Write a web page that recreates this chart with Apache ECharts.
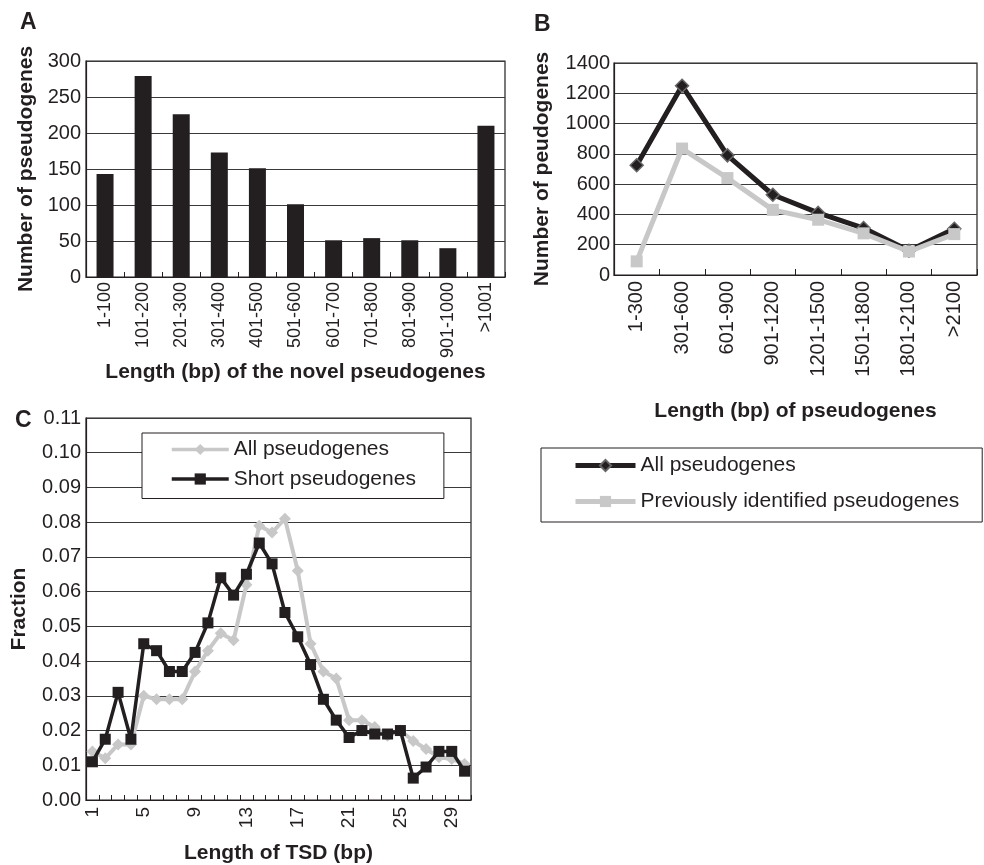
<!DOCTYPE html>
<html><head><meta charset="utf-8">
<script src="https://cdn.jsdelivr.net/npm/echarts@6/dist/echarts.min.js"></script>
<style>html,body{margin:0;padding:0;background:#fff}#c{width:984px;height:865px}</style>
</head><body><div id="c"></div>
<script>
// ---- Panel A data ----
const aCategories = ['1-100','101-200','201-300','301-400','401-500','501-600','601-700','701-800','801-900','901-1000','>1001'];
const aCounts = [143, 279, 226, 173, 151, 101, 51, 54, 51, 40, 210];
// ---- Panel B data ----
const bCategories = ['1-300','301-600','601-900','901-1200','1201-1500','1501-1800','1801-2100','>2100'];
const bAll = [725, 1250, 790, 530, 410, 310, 160, 305];
const bPrevious = [90, 835, 640, 430, 365, 275, 155, 270];
// ---- Panel C data ----
const cLengths = ['1','2','3','4','5','6','7','8','9','10','11','12','13','14','15','16','17','18','19','20','21','22','23','24','25','26','27','28','29','30'];
const cAll = [0.014,0.012,0.016,0.016,0.030,0.029,0.029,0.029,0.037,0.043,0.048,0.046,0.062,0.079,0.077,0.081,0.066,0.045,0.037,0.035,0.023,0.023,0.021,0.0185,0.020,0.017,0.0147,0.0123,0.0118,0.0104];
const cShort = [0.011,0.0175,0.031,0.0175,0.045,0.043,0.037,0.037,0.0425,0.051,0.064,0.059,0.065,0.074,0.068,0.054,0.047,0.039,0.029,0.023,0.018,0.020,0.019,0.019,0.020,0.0063,0.0095,0.014,0.014,0.0083];

const legendLabels = {
  bAll: 'All pseudogenes',
  bPrev: 'Previously identified pseudogenes',
  cAll: 'All pseudogenes',
  cShort: 'Short pseudogenes'
};

const INK = '#231f20';
const GRAY = '#c8c8c8';
const FONT = 'Liberation Sans';
const gridLine = { show: true, lineStyle: { color: '#3a3a3a', width: 1 } };
const axisLine = { show: true, lineStyle: { color: INK, width: 1.2 } };
const tickLabel = (size) => ({ color: INK, fontSize: size, fontFamily: FONT });
const titleStyle = { color: INK, fontSize: 21, fontWeight: 'bold', fontFamily: FONT };

const chart = echarts.init(document.getElementById('c'), null, { renderer: 'canvas' });

const option = {
  backgroundColor: '#fff',
  animation: false,
  title: [
    { text: 'A', left: 20, top: 11, padding: 0, textStyle: { color: INK, fontSize: 23, fontWeight: 'bold', fontFamily: FONT } },
    { text: 'B', left: 534, top: 13, padding: 0, textStyle: { color: INK, fontSize: 23, fontWeight: 'bold', fontFamily: FONT } },
    { text: 'C', left: 15, top: 409, padding: 0, textStyle: { color: INK, fontSize: 23, fontWeight: 'bold', fontFamily: FONT } }
  ],
  grid: [
    { left: 86, top: 61, width: 419, height: 216, show: true, borderColor: INK, borderWidth: 1.2, backgroundColor: 'transparent' },
    { left: 614, top: 63, width: 363, height: 212, show: true, borderColor: INK, borderWidth: 1.2, backgroundColor: 'transparent' },
    { left: 86, top: 418, width: 385, height: 385, show: true, borderColor: INK, borderWidth: 1.2, backgroundColor: 'transparent' }
  ],
  legend: [
    {
      orient: 'vertical', left: 541, top: 448,
      padding: [7, 23, 10, 32], itemGap: 15, itemWidth: 60, itemHeight: 14,
      borderColor: INK, borderWidth: 1, backgroundColor: '#fff',
      data: ['bAll', 'bPrev'],
      formatter: (n) => legendLabels[n],
      lineStyle: { width: 5 },
      textStyle: { color: INK, fontSize: 21, fontFamily: FONT }
    },
    {
      orient: 'vertical', left: 142, top: 433,
      padding: [6, 28, 9, 28], itemGap: 8.5, itemWidth: 57, itemHeight: 14,
      borderColor: INK, borderWidth: 1, backgroundColor: '#fff',
      data: ['cAll', 'cShort'],
      formatter: (n) => legendLabels[n],
      lineStyle: { width: 3.5 },
      textStyle: { color: INK, fontSize: 21, fontFamily: FONT }
    }
  ],
  xAxis: [
    {
      gridIndex: 0, type: 'category', data: aCategories,
      axisLine: axisLine,
      axisTick: { show: true, inside: true, length: 5, lineStyle: { color: INK } },
      axisLabel: Object.assign(tickLabel(18), { rotate: 90, interval: 0, margin: 5 }),
      name: 'Length (bp) of the novel pseudogenes', nameLocation: 'middle', nameGap: 84,
      nameTextStyle: titleStyle
    },
    {
      gridIndex: 1, type: 'category', data: bCategories,
      axisLine: axisLine,
      axisTick: { show: true, inside: true, length: 6, lineStyle: { color: INK } },
      axisLabel: Object.assign(tickLabel(20), { rotate: 90, interval: 0, margin: 6 }),
      name: 'Length (bp) of pseudogenes', nameLocation: 'middle', nameGap: 126,
      nameTextStyle: titleStyle
    },
    {
      gridIndex: 2, type: 'category', data: cLengths,
      axisLine: axisLine,
      axisTick: { show: true, inside: true, length: 5, interval: 0, lineStyle: { color: INK } },
      axisLabel: Object.assign(tickLabel(19), { rotate: 90, interval: 3, margin: 7 }),
      name: 'Length of TSD (bp)', nameLocation: 'middle', nameGap: 43,
      nameTextStyle: titleStyle
    }
  ],
  yAxis: [
    {
      gridIndex: 0, type: 'value', min: 0, max: 300, interval: 50,
      axisLine: axisLine, axisTick: { show: false },
      splitLine: gridLine,
      axisLabel: Object.assign(tickLabel(20), { margin: 5, formatter: (v) => String(v) }),
      name: 'Number of pseudogenes', nameLocation: 'middle', nameGap: 49, nameRotate: 90,
      nameTextStyle: titleStyle
    },
    {
      gridIndex: 1, type: 'value', min: 0, max: 1400, interval: 200,
      axisLine: axisLine, axisTick: { show: false },
      splitLine: gridLine,
      axisLabel: Object.assign(tickLabel(20), { margin: 4, formatter: (v) => String(v) }),
      name: 'Number of peudogenes', nameLocation: 'middle', nameGap: 61, nameRotate: 90,
      nameTextStyle: titleStyle
    },
    {
      gridIndex: 2, type: 'value', min: 0, max: 0.11, interval: 0.01,
      axisLine: axisLine, axisTick: { show: false },
      splitLine: gridLine,
      axisLabel: Object.assign(tickLabel(20), { margin: 5, formatter: (v) => v.toFixed(2) }),
      name: 'Fraction', nameLocation: 'middle', nameGap: 56, nameRotate: 90,
      nameTextStyle: titleStyle
    }
  ],
  series: [
    {
      name: 'aCounts', type: 'bar', xAxisIndex: 0, yAxisIndex: 0,
      data: aCounts, barWidth: 17, itemStyle: { color: INK }
    },
    {
      name: 'bAll', type: 'line', xAxisIndex: 1, yAxisIndex: 1, data: bAll,
      symbol: 'diamond', symbolSize: 13, z: 3, showAllSymbol: true,
      lineStyle: { color: INK, width: 5 },
      itemStyle: { color: INK, borderColor: '#666', borderWidth: 1.5 }
    },
    {
      name: 'bPrev', type: 'line', xAxisIndex: 1, yAxisIndex: 1, data: bPrevious,
      symbol: 'rect', symbolSize: 12, z: 4, showAllSymbol: true,
      lineStyle: { color: GRAY, width: 5 },
      itemStyle: { color: GRAY }
    },
    {
      name: 'cAll', type: 'line', xAxisIndex: 2, yAxisIndex: 2, data: cAll,
      symbol: 'diamond', symbolSize: 12, z: 3, showAllSymbol: true,
      lineStyle: { color: GRAY, width: 4 },
      itemStyle: { color: GRAY }
    },
    {
      name: 'cShort', type: 'line', xAxisIndex: 2, yAxisIndex: 2, data: cShort,
      symbol: 'rect', symbolSize: 11, z: 4, showAllSymbol: true,
      lineStyle: { color: INK, width: 3.5 },
      itemStyle: { color: INK }
    }
  ]
};
chart.setOption(option);
</script>
</body></html>
